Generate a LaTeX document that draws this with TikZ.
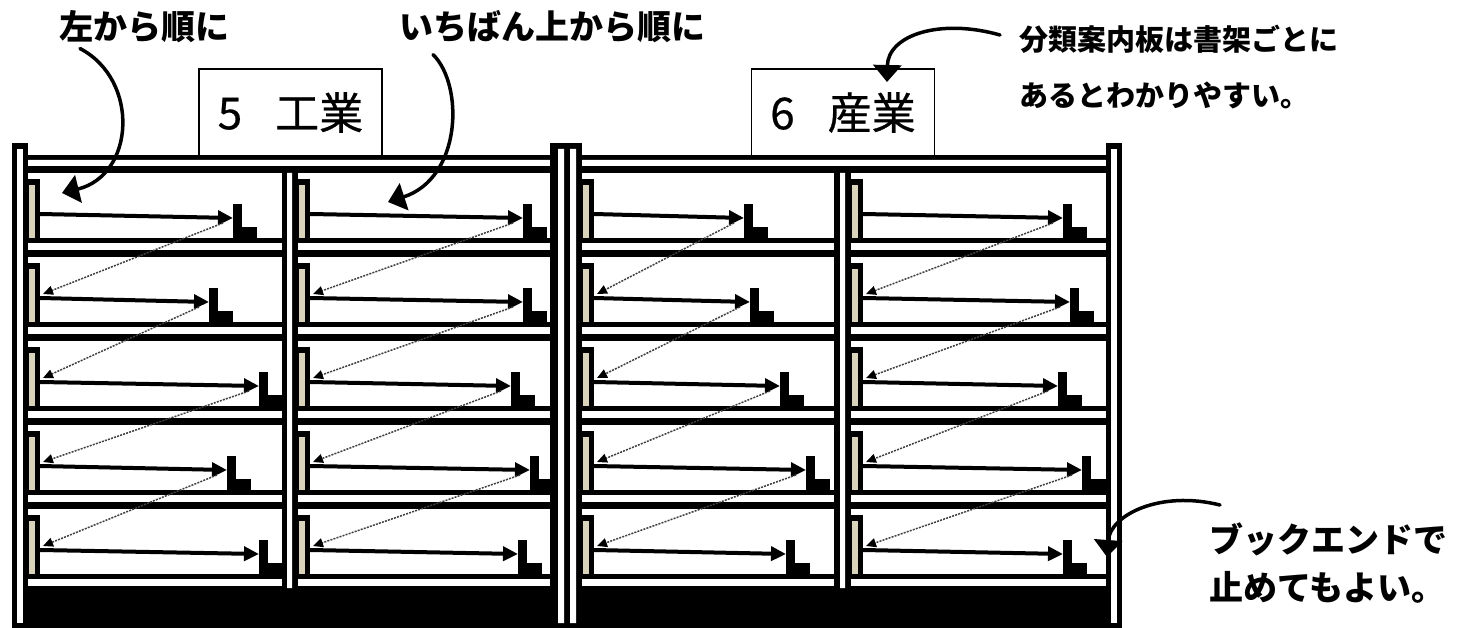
\documentclass[tikz,border=0pt]{standalone}
\usepackage{fontspec}
\usetikzlibrary{arrows.meta}
\newfontfamily\jpfont{Noto Sans CJK JP}
\newfontfamily\signfont{Noto Sans CJK JP}[FakeBold=0.6]
\definecolor{bookcloth}{HTML}{D9D3BC}
\tikzset{
upright/.pic={
  \fill (0,0) rectangle (16,485);
  \fill[white] (5,6) rectangle (11,480);
  },
bookend/.pic={
  \fill (0,0) rectangle (12,59);
  \fill[bookcloth] (1.3,6) rectangle (7,59);
  },
stopper/.pic={
  \fill (0,0) rectangle (9,-34);
  \fill (8,0) rectangle (24,-11);
  },
shelfarrow/.style={line width=4pt, -{Triangle[length=15pt,width=14pt]}},
turnarrow/.style={line width=1.5pt, black!75, dash pattern=on 2pt off 1.2pt,
  -{Triangle[length=10pt,width=9pt,color=black]}},
callout/.style={line width=3.5pt, line cap=round, -{Triangle[length=17pt,width=28pt]}},
note/.style={inner sep=0pt, align=left, font=\jpfont\bfseries\fontsize{34}{48}\selectfont},
signboard/.style={draw, line width=1.3pt, fill=white, minimum width=183pt,
  minimum height=87pt, inner sep=0pt, font=\signfont\fontsize{44}{44}\selectfont}
}
\begin{document}
\begin{tikzpicture}[x=1pt, y=-1pt]
\useasboundingbox (0,0) rectangle (1461,628);
% signs
\node[signboard] (sign5) at (290.5,112.5) {5\hspace{0.75em}工業};
\node[signboard] (sign6) at (843,112.5) {6\hspace{0.75em}産業};
% shelf frames
\fill (28,155) rectangle (550,628);
\fill (582,155) rectangle (1106,628);
\fill[white] (28,160) rectangle (550,166) (582,160) rectangle (1106,166);
\foreach \b/\bl/\br/\sa/\sb/\sc/\sd/\se in {1/28/282/233/209/259/227/259,
    2/298/550/523/523/511/530/518, 3/582/834/744/750/780/806/786,
    4/851/1106/1063/1070/1058/1082/1063}{
  \foreach \r/\sx in {0/\sa,1/\sb,2/\sc,3/\sd,4/\se}{
    \fill[white] (\bl,173+84*\r) rectangle (\br,238+84*\r);
    \fill[white] (\bl,243+84*\r) rectangle (\br,250+84*\r);
    \pic at (\bl,179+84*\r) {bookend};
    \pic at (\sx,238+84*\r) {stopper};
    \coordinate (from\b\r) at (\bl+12,214+84*\r);
    \coordinate (to\b\r) at (\sx,218+84*\r);
    \coordinate (turn\b\r) at (\sx-10,223+84*\r);
    \coordinate (land\b\r) at (\bl+15,210+84*\r);
    \draw[shelfarrow] (from\b\r) -- (to\b\r);
  }
  \foreach \r [evaluate=\r as \u using int(\r+1)] in {0,...,3}
    \draw[turnarrow] (turn\b\r) -- (land\b\u);
}
\fill[white] (287,173) rectangle (292,588) (840,173) rectangle (845,588);
% posts
\pic at (12,143) {upright};
\pic at (1106,143) {upright};
\fill (550,143) rectangle (582,628);
\fill[white] (558,149) rectangle (564,623) (570,149) rectangle (576,623);
% notes
\node[note, anchor=base west] (order1) at (59,40) {左から順に};
\node[note, anchor=base west] (order2) at (399,40) {いちばん上から順に};
\node[note, anchor=north west, font=\jpfont\bfseries\fontsize{29}{56}\selectfont]
  (guide) at (1019,25) {分類案内板は書架ごとに\\あるとわかりやすい。};
\node[note, anchor=north west] (stopnote) at (1209,523) {ブックエンドで\\止めてもよい。};
\coordinate (tip1) at (62,193);
\coordinate (tip2) at (388,202);
\coordinate (tip3) at (887,82);
\coordinate (tip4) at (1107,557);
\draw[callout] ([shift={(21,5)}]order1.south west) .. controls (140,80) and (135,175) .. (tip1);
\draw[callout] ([shift={(34,11)}]order2.south west) .. controls (464,85) and (462,178) .. (tip2);
\draw[callout] ([shift={(-19,10)}]guide.north west) .. controls (940,18) and (888,35) .. (tip3);
\draw[callout] ([shift={(11,-18)}]stopnote.north west) .. controls (1160,490) and (1110,515) .. (tip4);
\end{tikzpicture}
\end{document}
